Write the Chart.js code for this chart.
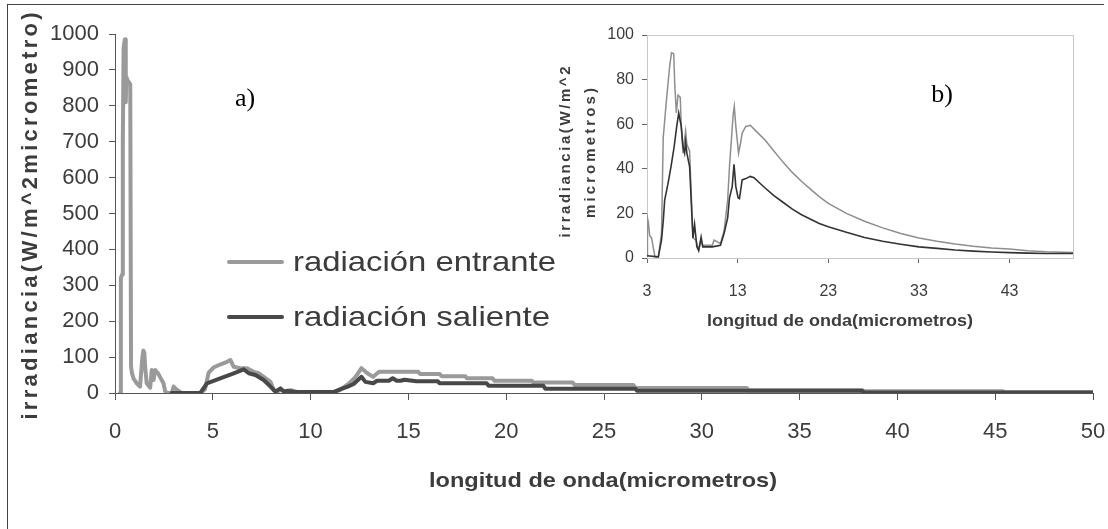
<!DOCTYPE html>
<html>
<head>
<meta charset="utf-8">
<script src="https://cdn.jsdelivr.net/npm/chart.js@4.4.1/dist/chart.umd.min.js"></script>
<style>
  body { margin: 0; background: #fff; width: 1108px; height: 529px; overflow: hidden; position: relative; }
  #frame { position: absolute; left: 7px; top: 4px; width: 1096px; height: 600px; border-left: 1px solid #444; border-top: 1px solid #444; }
  #main { position: absolute; left: 0; top: 0; }
  #inset { position: absolute; left: 556px; top: 15px; }
</style>
</head>
<body>
<div id="frame"></div>
<canvas id="main" width="1108" height="529"></canvas>
<canvas id="inset" width="550" height="330"></canvas>
<script>
// main chart (a)
const mainInX = [0.25, 0.29, 0.30, 0.36, 0.40, 0.44, 0.50, 0.53, 0.55, 0.58, 0.65, 0.72, 0.78, 0.82, 0.87, 0.95, 1.11, 1.28, 1.40, 1.45, 1.50, 1.54, 1.62, 1.80, 1.88, 1.97, 2.05, 2.20, 2.30, 2.48, 2.56, 2.65, 2.90, 3.00, 3.16, 3.40, 4.36, 4.60, 4.79, 5.04, 5.40, 5.73, 5.90, 6.07, 6.40, 6.75, 7.09, 7.35, 7.60, 7.95, 8.12, 8.30, 8.50, 8.70, 9.00, 9.30, 11.2, 11.5, 11.97, 12.3, 12.6, 12.9, 13.2, 13.5, 15.5, 15.6, 16.6, 16.7, 17.9, 18.0, 19.3, 19.4, 21.3, 21.4, 23.4, 23.5, 26.5, 26.6, 32.3, 32.4, 38.2, 38.3, 45.4, 45.5, 50];
const mainInY = [0, 0, 320, 330, 700, 960, 985, 985, 810, 880, 870, 865, 860, 73, 55, 40, 27, 18, 100, 118, 112, 73, 27, 15, 64, 36, 64, 55, 45, 27, 5, 0, 0, 18, 9, 0, 0, 10, 57, 71, 80, 87, 92, 73, 69, 69, 59, 55, 45, 31, 8, 4, 9, 4, 8, 3, 3, 8, 27, 45, 69, 55, 45, 59, 59, 53, 53, 47, 47, 41, 41, 34, 34, 29, 29, 22, 22, 14, 14, 8, 8, 5, 5, 2, 2];
const mainOutX = [2.9, 4.36, 4.70, 5.38, 6.07, 6.58, 6.84, 7.18, 7.60, 7.95, 8.20, 8.46, 8.63, 8.80, 9.2, 11.2, 11.5, 11.9, 12.2, 12.6, 12.8, 13.2, 13.4, 14.0, 14.2, 14.4, 14.6, 14.8, 15.4, 16.5, 16.6, 19.0, 19.1, 21.9, 22.0, 26.6, 26.7, 38.2, 38.3, 50];
const mainOutY = [0, 0, 27, 41, 55, 66, 55, 50, 36, 18, 4, 13, 4, 6, 3, 3, 10, 18, 25, 45, 31, 27, 34, 34, 41, 34, 34, 37, 33, 33, 27, 27, 20, 20, 12, 12, 6, 6, 1.5, 1.5];

// inset chart (b)
const insetInX = [3.0, 3.05, 3.15, 3.3, 3.5, 3.88, 4.25, 4.6, 4.79, 5.15, 5.5, 5.7, 5.95, 6.06, 6.24, 6.42, 6.67, 6.78, 6.97, 7.26, 7.4, 7.7, 8.07, 8.4, 8.7, 8.97, 9.15, 10.2, 10.4, 11.1, 11.5, 11.9, 12.1, 12.5, 12.63, 12.8, 13.1, 13.3, 13.5, 13.9, 14.4, 15, 16, 17, 18, 19, 20, 21, 22, 23, 25, 27, 29, 31, 33, 35, 37, 39, 41, 43, 45, 47, 50];
const insetInY = [1, 18, 16, 10, 9, 0.5, 0.5, 11, 54, 71, 86, 92, 91.6, 78, 65, 73, 72, 59, 47, 57, 51, 48, 9, 8, 3.4, 8, 5.7, 5.7, 8, 6.4, 12, 26, 41, 64, 68, 59, 47, 51, 56, 59, 59.5, 57, 53, 48, 43, 38.5, 34.5, 31, 27.5, 24.5, 20, 16.5, 13.5, 11, 9, 7.5, 6.3, 5.3, 4.5, 4, 3.3, 2.8, 2.5];
const insetOutX = [3, 4.25, 4.6, 4.8, 4.95, 5.3, 5.65, 6.0, 6.28, 6.5, 6.78, 6.97, 7.15, 7.26, 7.4, 7.7, 8.07, 8.25, 8.5, 8.7, 8.97, 9.15, 10.2, 11.1, 11.5, 11.9, 12.1, 12.4, 12.6, 12.8, 13.05, 13.2, 13.5, 13.9, 14.4, 14.8, 16, 17, 18, 19, 20, 21, 22, 23, 25, 27, 29, 31, 33, 35, 37, 39, 41, 43, 45, 47, 50];
const insetOutY = [1, 0.5, 8, 17, 26, 33, 41, 50, 59, 65, 59, 50, 47, 52, 47, 41, 9, 15, 5, 3.4, 9.4, 5, 5, 5.7, 11, 18, 27, 32, 42, 32, 27, 26.6, 35, 35.6, 36.6, 36, 31.5, 28, 25, 22, 19.5, 17.5, 15.5, 14, 11.5, 9.2, 7.5, 6.2, 5, 4.3, 3.6, 3.1, 2.7, 2.4, 2.2, 2, 2];
const insetXTicks = [3, 13, 23, 33, 43];

const seriesNames = ['radiación entrante', 'radiación saliente'];
const lightGray = '#9a9a9a';
const darkGray = '#484848';

function pts(xs, ys) {
  return xs.map((x, i) => ({ x: x, y: ys[i] }));
}

// draws text fitted to a measured width: 'space' spreads letters, otherwise stretches glyphs
function fitText(ctx, text, x, y, font, color, width, angle, mode, align) {
  ctx.save();
  ctx.font = font;
  ctx.fillStyle = color;
  ctx.letterSpacing = '0px';
  const natural = ctx.measureText(text).width;
  ctx.translate(x, y);
  ctx.rotate(angle || 0);
  ctx.textAlign = align || 'center';
  ctx.textBaseline = 'middle';
  if (mode === 'space') {
    const sp = (width - natural) / Math.max(1, text.length - 1);
    ctx.letterSpacing = sp.toFixed(2) + 'px';
    ctx.fillText(text, align === 'left' ? 0 : sp / 2, 0);
  } else {
    ctx.scale(width / natural, 1);
    ctx.fillText(text, 0, 0);
  }
  ctx.restore();
}

Chart.defaults.font.family = '"Liberation Sans", Arial, sans-serif';
Chart.defaults.color = '#3c3c3c';

const mainExtras = {
  id: 'mainExtras',
  afterDraw(chart) {
    const ctx = chart.ctx;
    fitText(ctx, 'irradiancia(W/m^2micrometro)', 31, 216, 'bold 22px "Liberation Sans"', '#3c3c3c', 407, -Math.PI / 2, 'space');
    fitText(ctx, 'longitud de onda(micrometros)', 603, 481, 'bold 21px "Liberation Sans"', '#3c3c3c', 348);
    const ds = chart.data.datasets;
    const rows = [262, 317];
    const widths = [263, 257];
    ds.forEach((d, i) => {
      ctx.save();
      ctx.strokeStyle = d.borderColor;
      ctx.lineWidth = 4;
      ctx.lineCap = 'round';
      ctx.beginPath();
      ctx.moveTo(229, rows[i]);
      ctx.lineTo(282, rows[i]);
      ctx.stroke();
      ctx.restore();
      fitText(ctx, d.label, 293, rows[i] + 1, '28px "Liberation Sans"', '#3c3c3c', widths[i], 0, 'stretch', 'left');
    });
    ctx.save();
    ctx.font = '26px "Liberation Serif"';
    ctx.fillStyle = '#000';
    ctx.textAlign = 'center';
    ctx.textBaseline = 'middle';
    ctx.fillText('a)', 245, 99);
    ctx.restore();
  }
};

new Chart(document.getElementById('main'), {
  type: 'line',
  data: {
    datasets: [
      { label: seriesNames[0], data: pts(mainInX, mainInY), borderColor: lightGray, borderWidth: 4, order: 2 },
      { label: seriesNames[1], data: pts(mainOutX, mainOutY), borderColor: darkGray, borderWidth: 4, order: 1 }
    ]
  },
  options: {
    responsive: false,
    animation: false,
    devicePixelRatio: 1,
    layout: { padding: { left: 0, right: 15, top: 34, bottom: 0 } },
    elements: {
      point: { radius: 0 },
      line: { tension: 0, borderJoinStyle: 'round', borderCapStyle: 'round' }
    },
    plugins: { legend: { display: false }, tooltip: { enabled: false } },
    scales: {
      x: {
        type: 'linear', min: 0, max: 50,
        ticks: { stepSize: 5, font: { size: 22 }, padding: 19, color: '#3c3c3c', callback: v => String(v) },
        grid: { drawOnChartArea: false, tickLength: 7, color: '#555' },
        border: { color: '#555' },
        afterFit(s) { s.height = 136; s.paddingLeft = 12; s.paddingRight = 12; }
      },
      y: {
        min: 0, max: 1000,
        ticks: { stepSize: 100, font: { size: 22 }, padding: 10, color: '#3c3c3c', callback: v => String(v) },
        grid: { drawOnChartArea: false, tickLength: 6, color: '#555' },
        border: { color: '#555' },
        afterFit(s) { s.width = 115; }
      }
    }
  },
  plugins: [mainExtras]
});

const insetExtras = {
  id: 'insetExtras',
  beforeDatasetsDraw(chart) {
    const a = chart.chartArea;
    const ctx = chart.ctx;
    ctx.save();
    ctx.strokeStyle = '#c8c8c8';
    ctx.lineWidth = 1;
    ctx.strokeRect(a.left + 0.5, a.top + 0.5, a.right - a.left, a.bottom - a.top);
    ctx.restore();
  },
  afterDraw(chart) {
    const ctx = chart.ctx;
    const ox = 556, oy = 15;
    fitText(ctx, 'longitud de onda(micrometros)', 840 - ox, 322 - oy, 'bold 16px "Liberation Sans"', '#3c3c3c', 266);
    fitText(ctx, 'irradiancia(W/m^2', 566 - ox, 152 - oy, 'bold 15px "Liberation Sans"', '#3c3c3c', 171, -Math.PI / 2, 'space');
    fitText(ctx, 'micrometros)', 591 - ox, 153 - oy, 'bold 15px "Liberation Sans"', '#3c3c3c', 130, -Math.PI / 2, 'space');
    ctx.save();
    ctx.font = '26px "Liberation Serif"';
    ctx.fillStyle = '#000';
    ctx.textAlign = 'center';
    ctx.textBaseline = 'middle';
    ctx.fillText('b)', 942 - ox, 95 - oy);
    ctx.restore();
  }
};

new Chart(document.getElementById('inset'), {
  type: 'line',
  data: {
    datasets: [
      { label: seriesNames[0], data: pts(insetInX, insetInY), borderColor: '#8e8e8e', borderWidth: 1.5, order: 2 },
      { label: seriesNames[1], data: pts(insetOutX, insetOutY), borderColor: '#333', borderWidth: 1.6, order: 1 }
    ]
  },
  options: {
    responsive: false,
    animation: false,
    devicePixelRatio: 1,
    layout: { padding: { left: 0, right: 33, top: 20, bottom: 0 } },
    elements: {
      point: { radius: 0 },
      line: { tension: 0 }
    },
    plugins: { legend: { display: false }, tooltip: { enabled: false } },
    scales: {
      x: {
        type: 'linear', min: 3, max: 50,
        afterBuildTicks(s) { s.ticks = insetXTicks.map(v => ({ value: v })); },
        ticks: { font: { size: 16 }, padding: 19, color: '#3c3c3c' },
        grid: { drawOnChartArea: false, tickLength: 5, color: '#666' },
        border: { color: '#666' },
        afterFit(s) { s.height = 87; s.paddingLeft = 10; s.paddingRight = 0; }
      },
      y: {
        min: 0, max: 100,
        ticks: { stepSize: 20, font: { size: 16 }, padding: 8, color: '#3c3c3c' },
        grid: { drawOnChartArea: false, tickLength: 5, color: '#666' },
        border: { color: '#666' },
        afterFit(s) { s.width = 91; }
      }
    }
  },
  plugins: [insetExtras]
});
</script>
</body>
</html>
